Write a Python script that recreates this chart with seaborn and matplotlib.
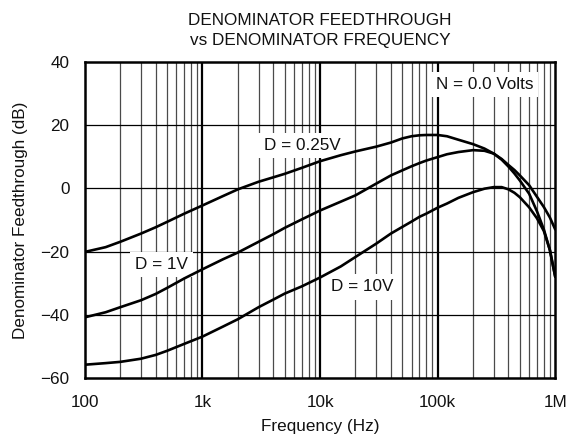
import numpy as np
import pandas as pd
import matplotlib
matplotlib.use("Agg")
import matplotlib.pyplot as plt
import seaborn as sns
from matplotlib.ticker import FixedLocator, NullFormatter

# ---- Data ----
freq_hz = [100, 150, 200, 300, 400, 500, 700, 1e3, 1.5e3, 2e3, 3e3, 4e3,
           5e3, 7e3, 1e4, 1.5e4, 2e4, 3e4, 4e4, 5e4, 6e4, 7e4, 8e4, 1e5,
           1.2e5, 1.5e5, 2e5, 2.5e5, 3e5, 3.5e5, 4e5, 4.5e5, 5e5, 6e5,
           7e5, 8e5, 9e5, 1e6]

d_025v = [-20.1, -18.6, -16.9, -14.3, -12.3, -10.6, -8, -5.4, -2.4, -0.3,
          2.1, 3.5, 4.6, 6.5, 8.6, 10.5, 11.7, 13.2, 14.5, 15.8, 16.5,
          16.8, 16.9, 16.9, 16.5, 15.4, 14, 12.6, 11, 9.3, 7.4, 5.8, 4.1,
          1, -2.7, -5.9, -9.2, -13]

d_1v = [-40.8, -39.2, -37.6, -35.4, -33.4, -31.5, -28.5, -25.6, -22.4,
        -20.3, -16.9, -14.5, -12.5, -9.8, -7, -4.2, -2.2, 1.5, 4.1, 5.7,
        7, 8, 8.8, 9.9, 10.8, 11.5, 12.1, 11.9, 11, 9.1, 6.9, 4.7, 2.5,
        -1.7, -7.3, -13, -19.5, -28]

d_10v = [-55.8, -55.3, -54.9, -53.9, -52.7, -51.4, -49.2, -46.9, -43.7,
         -41.4, -37.6, -35.2, -33.3, -31, -28.2, -24.7, -21.7, -17.5,
         -14.3, -12.2, -10.5, -9, -8, -6.1, -4.8, -3, -1.2, -0.1, 0.4, 0.4,
         -0.3, -1.4, -2.8, -6, -9.5, -13.5, -19.5, -28]

series = {"D = 0.25V": d_025v, "D = 1V": d_1v, "D = 10V": d_10v}

x_ticks = [1e2, 1e3, 1e4, 1e5, 1e6]
x_tick_labels = ["100", "1k", "10k", "100k", "1M"]
y_ticks = [-60, -40, -20, 0, 20, 40]
y_tick_labels = ["\u221260", "\u221240", "\u221220", "0", "20", "40"]

# label positions (freq, dB)
labels = [("D = 0.25V", 7000, 13.6), ("D = 1V", 450, -24.1),
          ("D = 10V", 23000, -31.2), ("N = 0.0 Volts", 250000, 32.8)]

records = []
for name, vals in series.items():
    for f, v in zip(freq_hz, vals):
        records.append({"freq": f, "db": v, "curve": name})
df = pd.DataFrame(records)

sns.set_style("white")
plt.rcParams["font.family"] = ["Liberation Sans", "DejaVu Sans"]
fs = 12.3
txt = "#111111"

fig = plt.figure(figsize=(5.66, 4.45), dpi=100)
ax = fig.add_axes([0.150, 0.1506, 0.831, 0.7101])

ax.set_xscale("log")
ax.set_xlim(100, 1e6)
ax.set_ylim(-60, 40)

# ---- Grid ----
minor = [m * 10 ** e for e in range(2, 6) for m in range(2, 10)]
for f in minor:
    ax.axvline(f, color="#4a4a4a", lw=0.9, zorder=1)
for f in x_ticks[1:-1]:
    ax.axvline(f, color="black", lw=1.6, zorder=1)
for y in y_ticks[1:-1]:
    ax.axhline(y, color="black", lw=0.9, zorder=1)

sns.lineplot(data=df, x="freq", y="db", hue="curve",
             palette=["black"] * 3, linewidth=1.9, legend=False,
             ax=ax, zorder=3)

for text, fx, fy in labels:
    ax.text(fx, fy, text, ha="center", va="center", fontsize=fs,
            color=txt, zorder=2,
            bbox=dict(boxstyle="square,pad=0.3", fc="white", ec="none"))

ax.xaxis.set_major_locator(FixedLocator(x_ticks))
ax.xaxis.set_minor_formatter(NullFormatter())
ax.set_xticks(x_ticks)
ax.set_xticklabels(x_tick_labels)
ax.set_yticks(y_ticks)
ax.set_yticklabels(y_tick_labels)
ax.tick_params(axis="x", which="both", length=0, labelsize=fs,
               colors=txt, pad=12)
ax.tick_params(axis="y", which="both", length=0, labelsize=fs,
               colors=txt, pad=11)

for sp in ax.spines.values():
    sp.set_visible(True)
    sp.set_color("black")
    sp.set_linewidth(1.8)

ax.set_xlabel("Frequency (Hz)", fontsize=fs, labelpad=7, color=txt)
ax.set_ylabel("Denominator Feedthrough (dB)", fontsize=fs, labelpad=9,
              color=txt)
ax.set_title("DENOMINATOR FEEDTHROUGH\nvs DENOMINATOR FREQUENCY",
             fontsize=fs, color=txt, pad=12, linespacing=1.45)

fig.savefig("out.png", dpi=100)
